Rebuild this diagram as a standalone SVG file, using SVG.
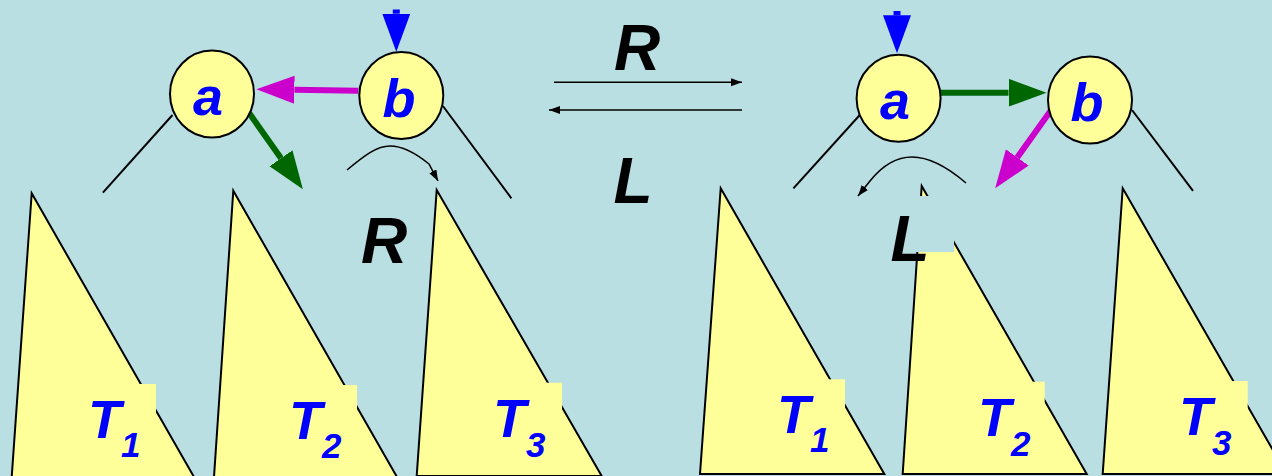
<svg xmlns="http://www.w3.org/2000/svg" width="1272" height="476" viewBox="0 0 1272 476">
<style>
.bg{fill:#B9DFE3}
.node{fill:#FFFF99;stroke:#000;stroke-width:2}
.tri{fill:#FFFF99;stroke:#000;stroke-width:2;stroke-linejoin:miter}
.lbox{fill:#FFFF99;stroke:none}
.nt{font-family:"Liberation Sans",Arial,sans-serif;font-weight:bold;font-style:italic;font-size:54px;fill:#0000FF;text-anchor:middle}
.tt{font-family:"Liberation Sans",Arial,sans-serif;font-weight:bold;font-style:italic;font-size:54px;fill:#0000FF}
.sub{font-size:35px}
.big{font-family:"Liberation Sans",Arial,sans-serif;font-weight:bold;font-style:italic;font-size:64px;fill:#000;text-anchor:middle}
.thin{fill:none;stroke:#000;stroke-width:2}
.thinA{fill:none;stroke:#000;stroke-width:1.6}
</style>
<defs>
<marker id="hB" markerUnits="userSpaceOnUse" markerWidth="40" markerHeight="30" refX="0" refY="14" orient="auto"><path d="M0,0 L38,14 L0,28 z" fill="#0000FF"/></marker>
<marker id="hM" markerUnits="userSpaceOnUse" markerWidth="40" markerHeight="30" refX="0" refY="14" orient="auto"><path d="M0,0 L38,14 L0,28 z" fill="#CC00CC"/></marker>
<marker id="hG" markerUnits="userSpaceOnUse" markerWidth="40" markerHeight="30" refX="0" refY="14" orient="auto"><path d="M0,0 L38,14 L0,28 z" fill="#006600"/></marker>
<marker id="hS" markerUnits="userSpaceOnUse" markerWidth="12" markerHeight="10" refX="11" refY="4" orient="auto"><path d="M0,0 L11,4 L0,8 z" fill="#000"/></marker>
</defs>
<rect class="bg" x="0" y="0" width="1272" height="476"/>

<!-- left subtrees -->
<g id="L_T1"><polygon class="tri" points="31.7,193.3 194,477 11.7,477"/><rect class="lbox" x="80" y="384" width="76" height="86"/><text class="tt" x="88" y="438">T<tspan class="sub" dy="19">1</tspan></text></g>
<g id="L_T2"><polygon class="tri" points="233.3,190.7 397,477 214,477"/><rect class="lbox" x="280" y="385" width="77" height="86"/><text class="tt" x="289" y="439">T<tspan class="sub" dy="19">2</tspan></text></g>
<g id="L_T3"><polygon class="tri" points="436.7,190 601.7,476 416.7,476"/><rect class="lbox" x="485" y="382.7" width="77" height="86"/><text class="tt" x="493" y="437">T<tspan class="sub" dy="20">3</tspan></text></g>

<!-- right subtrees -->
<g id="R_T1"><polygon class="tri" points="720.7,188.3 884.3,474 700,474"/><rect class="lbox" x="768" y="379.3" width="77" height="86"/><text class="tt" x="777" y="433">T<tspan class="sub" dy="19">1</tspan></text></g>
<g id="R_T2"><polygon class="tri" points="921.7,186 1086.7,474 902.7,474"/><rect class="lbox" x="968" y="381.7" width="76.7" height="86"/><text class="tt" x="978" y="436">T<tspan class="sub" dy="20">2</tspan></text></g>
<g id="R_T3"><polygon class="tri" points="1122.7,188.3 1286.7,474 1102.7,474"/><rect class="lbox" x="1170" y="381" width="77.7" height="86"/><text class="tt" x="1179" y="435">T<tspan class="sub" dy="20">3</tspan></text></g>

<g id="connectors">
<line class="thin" x1="172.5" y1="115" x2="102.9" y2="192.7"/>
<line class="thin" x1="442.9" y1="106" x2="511.4" y2="198.3"/>
<line class="thin" x1="859.8" y1="115" x2="793.4" y2="188.3"/>
<line class="thin" x1="1132" y1="110" x2="1193" y2="190.8"/>
<line x1="396.3" y1="9.5" x2="396.3" y2="13.7" stroke="#0000FF" stroke-width="7" marker-end="url(#hB)"/>
<line x1="358.2" y1="90.7" x2="294.4" y2="89.8" stroke="#CC00CC" stroke-width="6" marker-end="url(#hM)"/>
<line x1="249.3" y1="113.3" x2="281" y2="158.3" stroke="#006600" stroke-width="6" marker-end="url(#hG)"/>
<line x1="897" y1="11" x2="897" y2="15.3" stroke="#0000FF" stroke-width="7" marker-end="url(#hB)"/>
<line x1="940.6" y1="92.7" x2="1008.5" y2="92.7" stroke="#006600" stroke-width="6" marker-end="url(#hG)"/>
<line x1="1051.2" y1="110" x2="1017.3" y2="157.4" stroke="#CC00CC" stroke-width="6" marker-end="url(#hM)"/>
<path class="thinA" d="M347,170 C365,155 377,146 390,146 C404,146 418,155 429,164 L438,181" marker-end="url(#hS)"/>
<path class="thinA" d="M966,183 C945,165 928,157 912,157 C896,157 882,166 870,181 L858,196" marker-end="url(#hS)"/>
<line class="thinA" x1="554" y1="82.3" x2="742" y2="82.3" marker-end="url(#hS)"/>
<line class="thinA" x1="742" y1="110" x2="549" y2="110" marker-end="url(#hS)"/>
</g>

<g id="L_a"><ellipse class="node" cx="212" cy="94" rx="42" ry="43.5"/><text class="nt" x="208" y="115">a</text></g>
<g id="L_b"><ellipse class="node" cx="401.3" cy="95.5" rx="42" ry="43.5"/><text class="nt" x="399" y="117">b</text></g>
<g id="R_a"><ellipse class="node" cx="898.6" cy="98.3" rx="42" ry="43.5"/><text class="nt" x="895" y="119">a</text></g>
<g id="R_b"><ellipse class="node" cx="1090" cy="100" rx="42" ry="43.5"/><text class="nt" x="1087" y="121">b</text></g>

<g id="labels">
<text class="big" x="384" y="263">R</text>
<text class="big" x="637" y="70">R</text>
<text class="big" x="633" y="203">L</text>
<rect class="bg" x="880" y="196" width="74" height="56"/>
<text class="big" x="910" y="260.7">L</text>
</g>
</svg>
